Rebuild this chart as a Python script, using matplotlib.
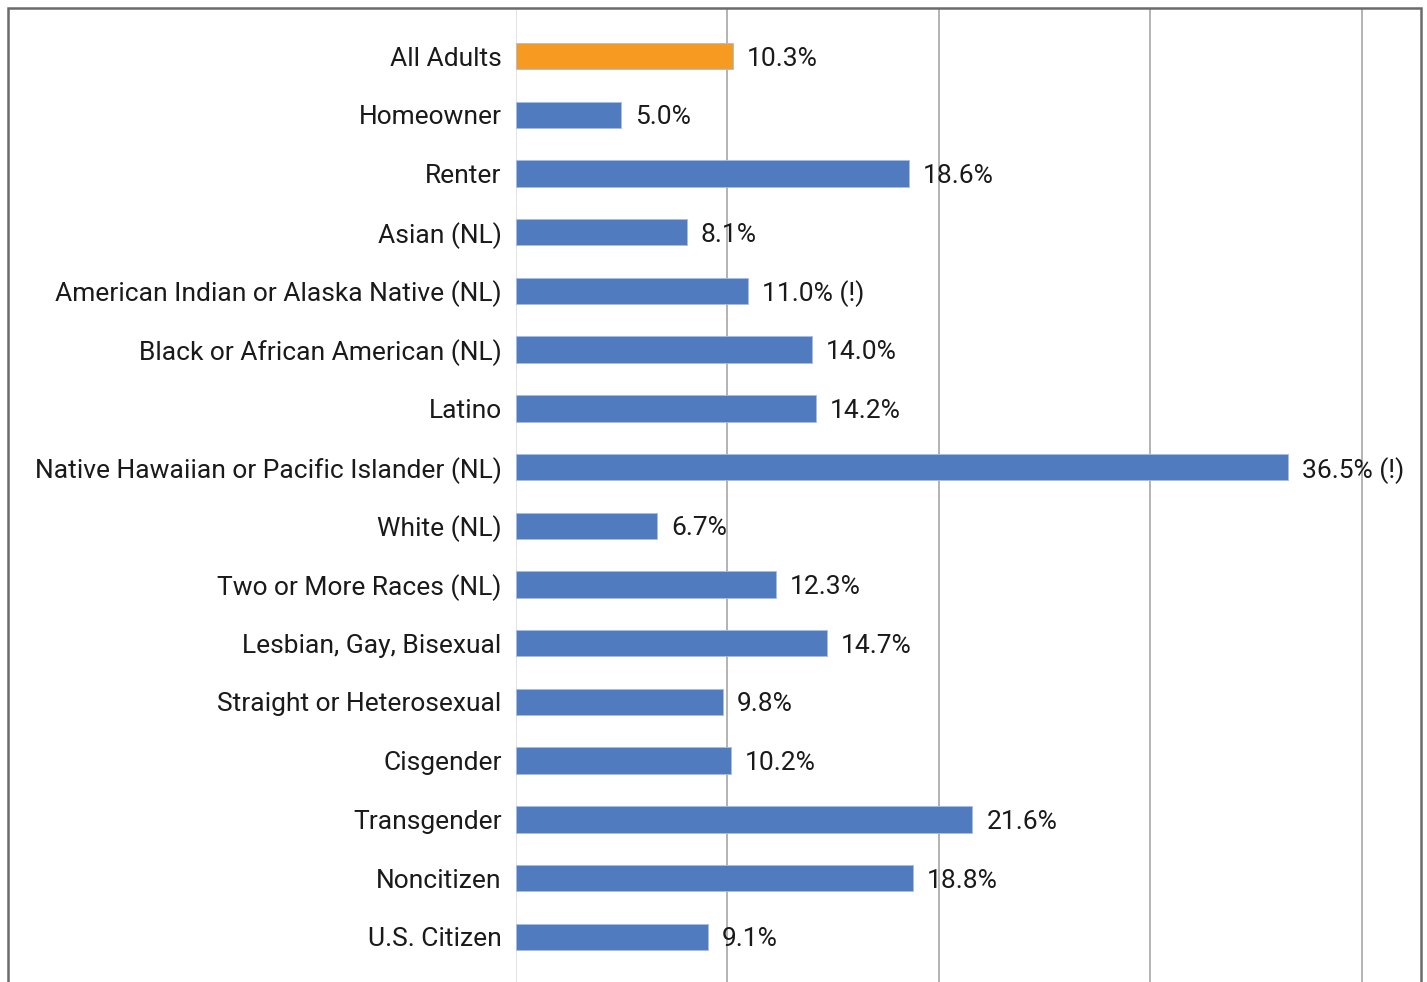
import matplotlib.pyplot as plt
from matplotlib.patches import Rectangle

plt.rcParams['font.family'] = ['Roboto', 'DejaVu Sans']

categories = ["All Adults", "Homeowner", "Renter", "Asian (NL)",
              "American Indian or Alaska Native (NL)", "Black or African American (NL)",
              "Latino", "Native Hawaiian or Pacific Islander (NL)", "White (NL)",
              "Two or More Races (NL)", "Lesbian, Gay, Bisexual", "Straight or Heterosexual",
              "Cisgender", "Transgender", "Noncitizen", "U.S. Citizen"]
values = [10.3, 5.0, 18.6, 8.1, 11.0, 14.0, 14.2, 36.5, 6.7, 12.3, 14.7, 9.8, 10.2, 21.6, 18.8, 9.1]
labels = ["10.3%", "5.0%", "18.6%", "8.1%", "11.0% (!)", "14.0%", "14.2%", "36.5% (!)",
          "6.7%", "12.3%", "14.7%", "9.8%", "10.2%", "21.6%", "18.8%", "9.1%"]

blue = "#517bbf"
orange = "#f79a21"
colors = [orange] + [blue] * (len(values) - 1)

fig = plt.figure(figsize=(14.27, 9.82), dpi=100)
ax = fig.add_axes([515.5 / 1427, 0, (1421 - 515.5) / 1427, 1 - 8 / 982])

ypos = list(range(len(categories)))
ax.barh(ypos, values, height=0.45, color=colors, edgecolor="#a9bde0", linewidth=0.6, zorder=3)

for y, v, t in zip(ypos, values, labels):
    ax.annotate(t, (v, y), xytext=(10, 0), textcoords="offset points",
                va="center_baseline", ha="left", fontsize=19, color="#1a1a1a", zorder=4)

ax.set_xlim(0, 42.8)
ax.set_ylim(15.77, -0.82)
ax.set_yticks(ypos)
ax.set_yticklabels(categories, fontsize=19, color="#1a1a1a")
ax.tick_params(axis="y", length=0, pad=10)
ax.set_xticks([10, 20, 30, 40])
ax.tick_params(axis="x", length=0, labelbottom=False)
ax.grid(axis="x", color="#b3b3b3", linewidth=1.4, zorder=0)
ax.axvline(0, color="#e3e3e3", linewidth=1.4, zorder=1)
for s in ax.spines.values():
    s.set_visible(False)

# outer frame around the chart
fig.patches.append(Rectangle((8 / 1427, -0.05), (1421 - 8) / 1427, 1.05 - 8 / 982,
                             transform=fig.transFigure, fill=False,
                             edgecolor="#6b6b6b", linewidth=1.8, zorder=10))

fig.savefig("out.png", dpi=100)
